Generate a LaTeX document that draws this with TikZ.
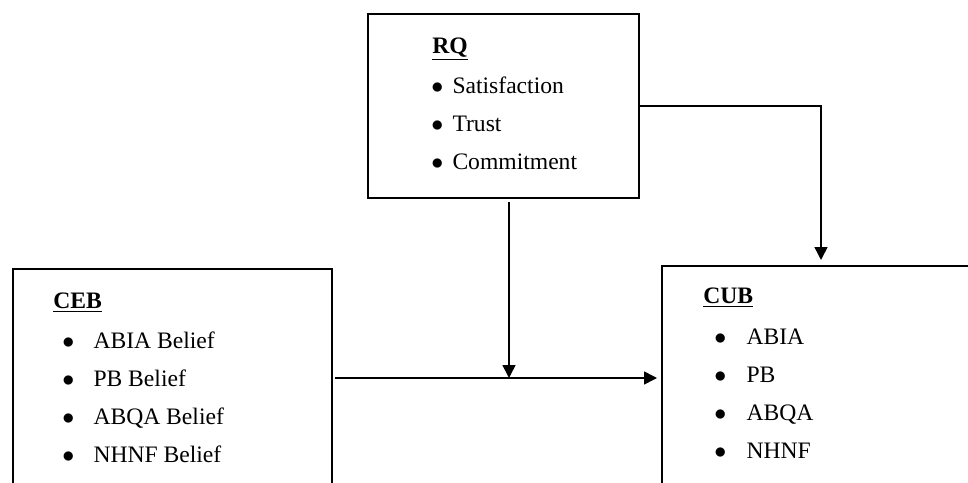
\documentclass[tikz,border=0pt]{standalone}
\usepackage{fontspec}
\setmainfont{Liberation Serif}
\usetikzlibrary{calc}
\usetikzlibrary{matrix,positioning,arrows.meta}
\newcommand{\bul}{$\bullet$}
\newcommand{\hd}[1]{\underline{\textbf{#1}}}
\tikzset{
  box/.style={draw,line width=1pt,anchor=north west,inner sep=0pt},
  head/.style={anchor=base west,inner sep=0pt},
  list/.style={matrix of nodes,anchor=north west,inner sep=0pt,row sep=7pt,
    ampersand replacement=\&,
    nodes={anchor=base west,inner sep=0pt,text height=9pt,text depth=3pt}},
  link/.style={line width=0.8pt},
  arr/.style={link,-{Triangle[length=6.5pt,width=6.5pt]}}
}

\begin{document}
\begin{tikzpicture}[x=0.5pt,y=-0.5pt,font=\fontsize{11.8pt}{14pt}\selectfont]
        \useasboundingbox (0,0) rectangle (968,482);
        \clip (0,0) rectangle (968,482);
        % the three boxes
        \node[box,minimum width=135.5pt,minimum height=92pt] (RQ) at (367,13) {};
        \node[box,minimum width=159.5pt,minimum height=120pt] (CEB) at (12,268) {};
        \node[box,minimum width=160pt,minimum height=120pt] (CUB) at (661,265) {};
        % headings
        \node[head] (RQ-h) at ($(RQ.north west)+(65,40)$) {\hd{RQ}};
        \node[head] (CEB-h) at ($(CEB.north west)+(41,40)$) {\hd{CEB}};
        \node[head] (CUB-h) at ($(CUB.north west)+(42,38)$) {\hd{CUB}};
        % bullet lists
        \matrix (RQL) [list,column sep=4.55pt,below right=31pt and 32pt of RQ.north west] {
          \bul \& Satisfaction \\
          \bul \& Trust \\
          \bul \& Commitment \\
        };
        \matrix (CEBL) [list,column sep=9.55pt,below right=31pt and 25pt of CEB.north west] {
          \bul \& ABIA Belief \\
          \bul \& PB Belief \\
          \bul \& ABQA Belief \\
          \bul \& NHNF Belief \\
        };
        \matrix (CUBL) [list,column sep=10.05pt,below right=30.5pt and 26.5pt of CUB.north west] {
          \bul \& ABIA \\
          \bul \& PB \\
          \bul \& ABQA \\
          \bul \& NHNF \\
        };
        % connectors
        \coordinate (turn) at ($(CUB.north west)+(160,0)$);
        \coordinate (from) at ($(CEB.north east)+(2,110)$);
        \coordinate (join) at ($(from)+(174,0)$);
        \draw[arr,shorten >=2.5pt] (RQ.east) -| (turn);
        \draw[arr,shorten >=2pt] (from) -- (from -| CUB.west);
        \draw[arr,shorten <=1.5pt] (RQ.south -| join) -- (join);
      \end{tikzpicture}
\end{document}
